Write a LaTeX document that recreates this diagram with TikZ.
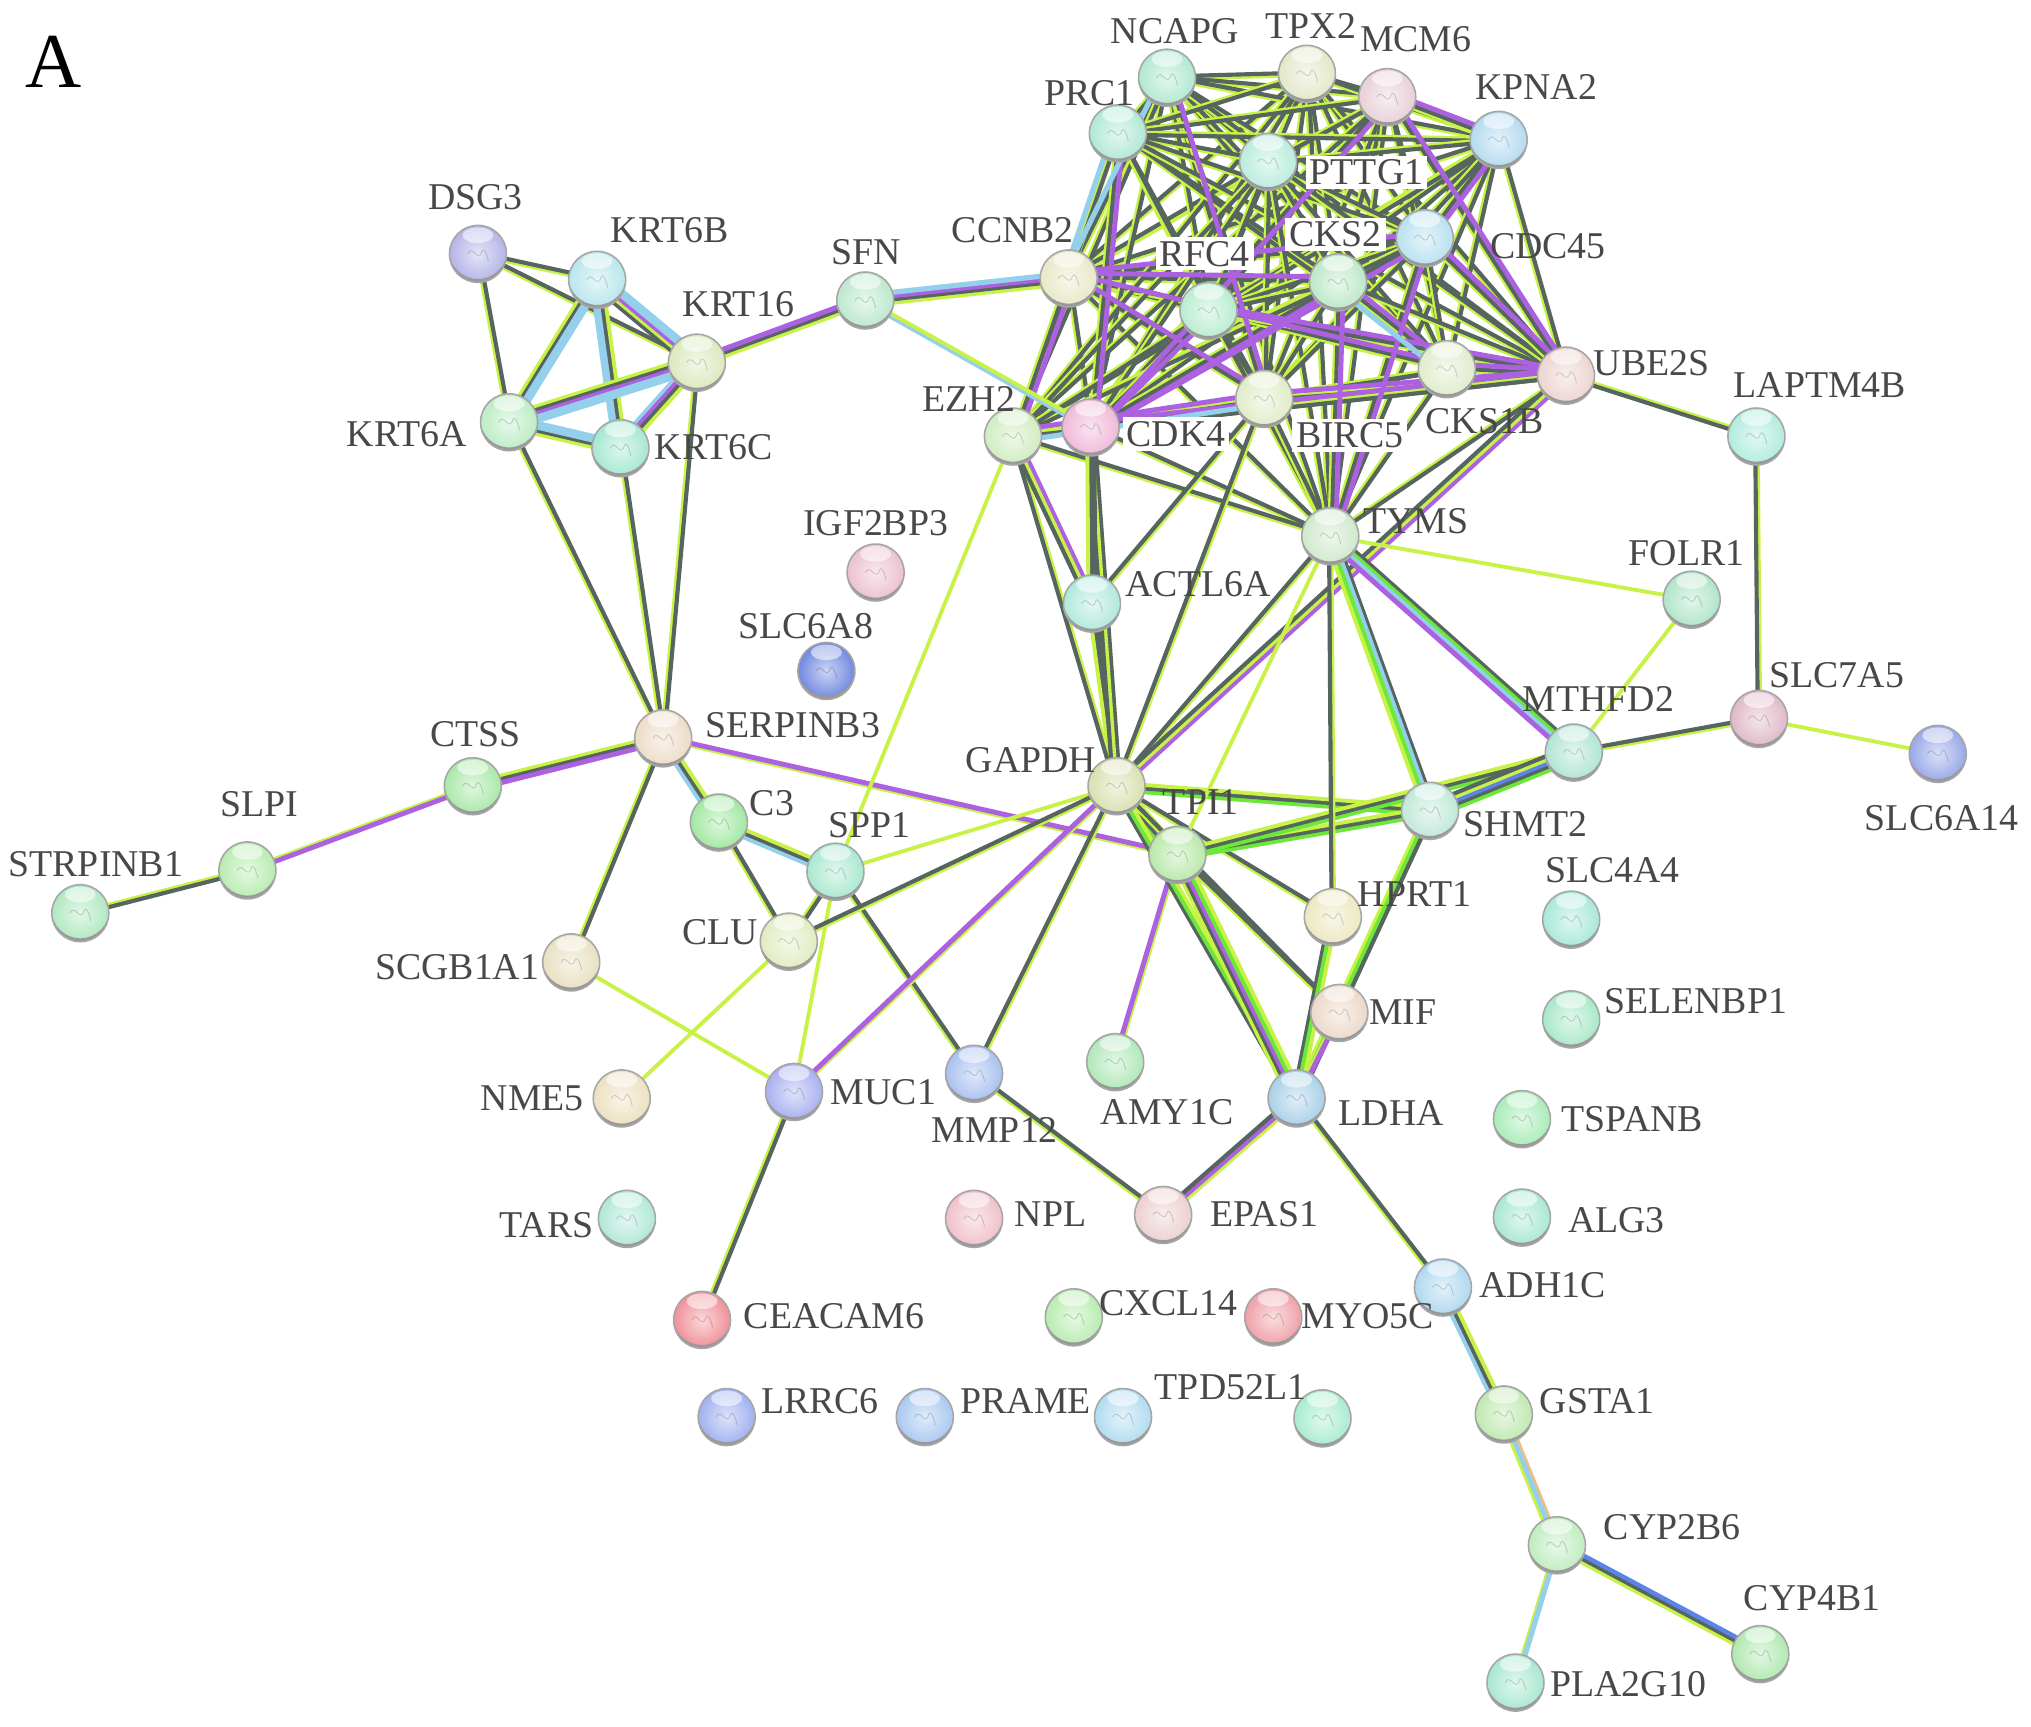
\documentclass[tikz,border=0pt]{standalone}
\usepackage{fontspec}
\setmainfont{Liberation Serif}
\usetikzlibrary{calc}
\pgfdeclarelayer{bg}
\pgfsetlayers{bg,main}
\definecolor{cLime}{HTML}{C8F248}
\definecolor{cGray}{HTML}{56655F}
\definecolor{cPur}{HTML}{AC62E0}
\definecolor{cCyan}{HTML}{94D0EC}
\definecolor{cNeon}{HTML}{6CE838}
\definecolor{cBlue}{HTML}{5C84E8}
\definecolor{cOrg}{HTML}{E8C088}
\definecolor{cText}{HTML}{484848}
\tikzset{
  lm/.style={cLime,line width=1.5pt},
  gy/.style={cGray,line width=1.6pt},
  pu/.style={cPur,line width=1.9pt},
  cy/.style={cCyan,line width=2pt},
  ng/.style={cNeon,line width=1.8pt},
  bl/.style={cBlue,line width=1.7pt},
  og/.style={cOrg,line width=1pt},
  protein/.style={circle,minimum size=22pt,inner sep=0pt,draw=gray!70,line width=.6pt},
  lbl/.style={text=cText,font=\fontsize{14.6}{15}\selectfont,inner sep=0pt},
  lblw/.style={lbl,fill=white,inner sep=1.5pt},
  panel/.style={text=black,font=\fontsize{30}{32}\selectfont,inner sep=0pt}
}
\newcommand\protnode[4]{%
  \definecolor{ballc}{HTML}{#4}%
  \pgfmathsetmacro\rr{mod(#2*3+#3*5,360)}%
  \node[protein,inner color=ballc!35!white,outer color=ballc,
    path picture={
      \fill[white,opacity=.55] (0,7.2pt) ellipse (6pt and 3pt);
      \draw[ballc!40!black,opacity=.25,line width=.35pt,rotate=\rr]
        (-4pt,0pt) .. controls (-2pt,4pt) and (0pt,-4pt) .. (1.5pt,1pt)
        .. controls (2.5pt,3pt) and (4pt,-2pt) .. (4pt,-3pt);
      \fill[gray!80,even odd rule] (0,0) circle (11.2pt) (0,1.5pt) circle (11.2pt);
    }] (#1) at (#2,#3) {};%
}
\newcommand\labeltext[5][lbl]{\node[#1] (#2) at (#3,#4) {#5};}
\newcommand\lnkoff[4]{\draw[#4] ($(#1.center)!#3pt!90:(#2.center)$) -- ($(#2.center)!#3pt!-90:(#1.center)$);}
\newcommand\lnk[3]{%
  \foreach \kc [count=\kn] in {#3} {\xdef\knn{\kn}}%
  \ifnum\knn=2 \gdef\kstep{.95}\else\gdef\kstep{1.35}\fi
  \foreach \kc [count=\ki] in {#3} {%
    \pgfmathsetmacro\koff{(\ki-(\knn+1)/2)*\kstep}%
    \lnkoff{#1}{#2}{\koff}{\kc}%
  }%
}
\begin{document}
\begin{tikzpicture}[x=.5pt,y=-.5pt]
\useasboundingbox (0,0) rectangle (1568,1332.6);
\protnode{DSG3}{369}{196}{B4B4E8}
\protnode{KRT6B}{461}{216}{B8E6EC}
\protnode{KRT16}{538}{280}{DCE8BC}
\protnode{KRT6A}{393}{326}{BCECC4}
\protnode{KRT6C}{479}{346}{A4E8D0}
\protnode{SFN}{668}{232}{BCE8CC}
\protnode{CCNB2}{825}{215}{E8E8C8}
\protnode{NCAPG}{901}{60}{B0E8D0}
\protnode{TPX2}{1009}{57}{E2E8C8}
\protnode{MCM6}{1071}{75}{E8D0D8}
\protnode{KPNA2}{1157}{108}{B4DAF0}
\protnode{PRC1}{863}{103}{B0E8D4}
\protnode{PTTG1}{979}{125}{B8ECDC}
\protnode{CDC45}{1100}{184}{B8E0F0}
\protnode{CKS2}{1033}{218}{BCE8C8}
\protnode{RFC4}{933}{240}{B8ECD0}
\protnode{CKS1B}{1117}{285}{E0ECCC}
\protnode{UBE2S}{1209}{290}{ECD4D0}
\protnode{BIRC5}{976}{308}{E0ECC8}
\protnode{CDK4}{842}{330}{F0B8D8}
\protnode{EZH2}{782}{337}{D0ECC0}
\protnode{LAPTM4B}{1356}{337}{B0ECDC}
\protnode{TYMS}{1027}{414}{D0E8CC}
\protnode{ACTL6A}{843}{466}{B0E8DC}
\protnode{IGF2BP3}{676}{442}{ECC0D0}
\protnode{FOLR1}{1306}{463}{B0E4C8}
\protnode{SLC6A8}{638}{518}{7088E0}
\protnode{SERPINB3}{512}{570}{ECDCC8}
\protnode{CTSS}{365}{607}{A8E8A8}
\protnode{SLPI}{191}{672}{B8ECB0}
\protnode{STRPINB1}{62}{705}{B0E8C0}
\protnode{C3}{555}{635}{A0E8A0}
\protnode{SPP1}{645}{673}{A8E8D0}
\protnode{CLU}{609}{727}{E0ECC0}
\protnode{GAPDH}{862}{607}{D8E0B0}
\protnode{TPI1}{909}{660}{B8E8A8}
\protnode{SHMT2}{1104}{626}{C0E8D8}
\protnode{MTHFD2}{1215}{581}{B0E4D4}
\protnode{SLC7A5}{1358}{555}{E0B8C8}
\protnode{SLC6A14}{1496}{582}{98A8E8}
\protnode{SLC4A4}{1213}{710}{A8E8D8}
\protnode{HPRT1}{1029}{708}{ECE8C0}
\protnode{MIF}{1034}{782}{ECD8C8}
\protnode{SELENBP1}{1213}{787}{A8E8C8}
\protnode{SCGB1A1}{441}{743}{E8E0C0}
\protnode{NME5}{480}{848}{ECE0C0}
\protnode{MUC1}{613}{843}{A8B0F0}
\protnode{MMP12}{752}{829}{A8C0F0}
\protnode{AMY1C}{861}{820}{B0E8B8}
\protnode{LDHA}{1001}{848}{A8D0E8}
\protnode{TSPANB}{1175}{864}{A8ECB8}
\protnode{TARS}{484}{941}{B0E8D8}
\protnode{NPL}{752}{941}{F0C0C8}
\protnode{EPAS1}{898}{938}{ECD0D0}
\protnode{ALG3}{1175}{940}{A8E8D0}
\protnode{ADH1C}{1114}{994}{B0D8F0}
\protnode{CEACAM6}{542}{1019}{F09098}
\protnode{CXCL14}{829}{1017}{B8ECB0}
\protnode{MYO5C}{983}{1017}{F0A0A8}
\protnode{LRRC6}{561}{1094}{A0B0F0}
\protnode{PRAME}{714}{1094}{A8C8F0}
\protnode{TPD52L1}{867}{1094}{B0DCF0}
\protnode{extra}{1021}{1095}{A8ECD0}
\protnode{GSTA1}{1161}{1092}{C0E8B0}
\protnode{CYP2B6}{1202}{1193}{C0ECC0}
\protnode{CYP4B1}{1359}{1277}{B0E8B0}
\protnode{PLA2G10}{1170}{1299}{A8E8D0}
\begin{pgfonlayer}{bg}
% dense cluster
\foreach \pa [count=\qi] in {CCNB2,NCAPG,TPX2,MCM6,KPNA2,PRC1,PTTG1,CDC45,CKS2,RFC4,CKS1B,UBE2S,BIRC5,CDK4,EZH2,TYMS}{
  \foreach \pb [count=\qj] in {CCNB2,NCAPG,TPX2,MCM6,KPNA2,PRC1,PTTG1,CDC45,CKS2,RFC4,CKS1B,UBE2S,BIRC5,CDK4,EZH2,TYMS}{
    \ifnum\qj>\qi \lnk{\pa}{\pb}{lm,gy}\fi
  }
}
\foreach \pa/\pb in {NCAPG/BIRC5,MCM6/KPNA2,MCM6/UBE2S,MCM6/CDK4,PRC1/CDK4,CCNB2/EZH2,CCNB2/CKS2,CCNB2/CDC45,CDC45/CDK4,CKS2/CDK4,RFC4/CDK4,CCNB2/BIRC5,BIRC5/UBE2S,CDK4/UBE2S,EZH2/BIRC5,CDC45/TYMS,CDC45/UBE2S,KPNA2/CDC45,CKS2/TYMS,RFC4/UBE2S,CKS1B/UBE2S,CKS2/CKS1B,CCNB2/CKS1B}{
  \lnkoff{\pa}{\pb}{2.1}{pu}
}
\foreach \pa/\pb in {NCAPG/CCNB2,PRC1/CCNB2,CKS2/CKS1B,EZH2/BIRC5}{
  \lnkoff{\pa}{\pb}{-2.1}{cy}
}
% keratin group
\lnk{DSG3}{KRT6B}{lm,gy}
\lnk{DSG3}{KRT16}{lm,gy}
\lnk{DSG3}{KRT6A}{lm,gy}
\lnk{KRT6B}{KRT16}{gy,lm,pu,cy,cy}
\lnk{KRT6B}{KRT6A}{lm,gy,cy,cy}
\lnk{KRT6B}{KRT6C}{cy,cy,gy,lm}
\lnk{KRT16}{KRT6A}{lm,gy,pu,cy,cy}
\lnk{KRT16}{KRT6C}{cy,pu,gy,lm}
\lnk{KRT6A}{KRT6C}{lm,gy,cy,cy}
\lnk{KRT6A}{SERPINB3}{lm,gy}
\lnk{KRT6C}{SERPINB3}{lm,gy}
\lnk{KRT16}{SERPINB3}{lm,gy}
\lnk{KRT16}{SFN}{lm,gy,pu}
\lnk{SFN}{CCNB2}{lm,gy,pu,cy}
\lnk{SFN}{CDK4}{cy,lm}
% left chain
\lnk{SERPINB3}{CTSS}{lm,gy,pu}
\lnk{CTSS}{SLPI}{lm,pu}
\lnk{SLPI}{STRPINB1}{lm,gy}
\lnk{SERPINB3}{C3}{cy,gy,lm}
\lnk{SERPINB3}{SCGB1A1}{lm,gy}
\lnk{SERPINB3}{TPI1}{lm,pu}
\lnk{C3}{SPP1}{cy,gy,lm}
\lnk{C3}{CLU}{lm,gy}
\lnk{SPP1}{CLU}{lm,gy}
\lnk{SPP1}{MMP12}{lm,gy}
\lnk{SPP1}{MUC1}{lm}
\lnk{SPP1}{GAPDH}{lm}
\lnk{CLU}{GAPDH}{lm,gy}
\lnk{CLU}{NME5}{lm}
\lnk{EZH2}{SPP1}{lm}
\lnk{SCGB1A1}{MUC1}{lm}
\lnk{MUC1}{GAPDH}{lm,pu}
\lnk{MUC1}{CEACAM6}{lm,gy}
\lnk{MMP12}{GAPDH}{lm,gy}
\lnk{MMP12}{EPAS1}{lm,gy}
\lnk{EPAS1}{LDHA}{lm,pu,gy}
\lnk{LDHA}{ADH1C}{lm,gy}
\lnk{ADH1C}{GSTA1}{cy,gy,lm}
\lnk{GSTA1}{CYP2B6}{lm,cy,og}
\lnk{CYP2B6}{CYP4B1}{lm,gy,bl}
\lnk{CYP2B6}{PLA2G10}{lm,cy}
\lnk{AMY1C}{TPI1}{lm,pu}
% centre
\lnk{GAPDH}{TPI1}{ng,gy,pu,lm}
\lnk{GAPDH}{ACTL6A}{gy,gy,lm}
\lnk{GAPDH}{EZH2}{lm,gy}
\lnk{GAPDH}{CDK4}{gy,lm,gy}
\lnk{GAPDH}{TYMS}{lm,gy}
\lnk{GAPDH}{UBE2S}{pu,lm,gy}
\lnk{GAPDH}{BIRC5}{lm,gy}
\lnk{GAPDH}{SHMT2}{ng,gy,lm}
\lnk{GAPDH}{HPRT1}{lm,gy}
\lnk{GAPDH}{LDHA}{gy,ng,lm}
\lnk{GAPDH}{MIF}{lm,gy}
\lnk{TPI1}{SHMT2}{ng,gy,lm}
\lnk{TPI1}{MTHFD2}{ng,gy,lm}
\lnk{TPI1}{MIF}{lm,gy}
\lnk{TPI1}{LDHA}{lm,gy,pu,ng,lm}
\lnk{TPI1}{TYMS}{lm}
\lnk{SHMT2}{MTHFD2}{ng,gy,bl,lm,gy}
\lnk{SHMT2}{TYMS}{gy,cy,ng,lm}
\lnk{SHMT2}{LDHA}{lm,ng,gy}
\lnk{HPRT1}{TYMS}{lm,gy}
\lnk{HPRT1}{LDHA}{gy,ng,lm}
\lnk{MIF}{LDHA}{lm,pu}
\lnk{MTHFD2}{SLC7A5}{lm,gy}
\lnk{MTHFD2}{TYMS}{gy,ng,cy,pu}
\lnk{MTHFD2}{FOLR1}{lm}
\lnk{TYMS}{FOLR1}{lm}
\lnk{SLC7A5}{SLC6A14}{lm}
\lnk{SLC7A5}{LAPTM4B}{lm,gy}
\lnk{LAPTM4B}{UBE2S}{lm,gy}
\lnk{ACTL6A}{EZH2}{pu,lm,gy}
\lnk{ACTL6A}{CDK4}{gy,gy,lm}
\lnk{ACTL6A}{BIRC5}{lm,gy}
\end{pgfonlayer}
\labeltext[panel]{lA}{41}{48}{A}
\labeltext{lDSG3}{367}{152}{DSG3}
\labeltext{lKRT6B}{517}{178}{KRT6B}
\labeltext{lKRT16}{570}{235}{KRT16}
\labeltext{lKRT6A}{314}{335}{KRT6A}
\labeltext{lKRT6C}{551}{345}{KRT6C}
\labeltext{lSFN}{669}{195}{SFN}
\labeltext{lCCNB2}{782}{178}{CCNB2}
\labeltext{lNCAPG}{907}{24}{NCAPG}
\labeltext{lTPX2}{1012}{20}{TPX2}
\labeltext{lMCM6}{1093}{30}{MCM6}
\labeltext{lKPNA2}{1186}{67}{KPNA2}
\labeltext{lPRC1}{841}{72}{PRC1}
\labeltext[lblw]{lPTTG1}{1055}{133}{PTTG1}
\labeltext[lblw]{lRFC4}{930}{196}{RFC4}
\labeltext[lblw]{lCKS2}{1031}{181}{CKS2}
\labeltext{lCDC45}{1195}{190}{CDC45}
\labeltext{lUBE2S}{1275}{280}{UBE2S}
\labeltext[lblw]{lBIRC5}{1042}{336}{BIRC5}
\labeltext[lblw]{lCDK4}{908}{335}{CDK4}
\labeltext{lCKS1B}{1146}{325}{CKS1B}
\labeltext{lEZH2}{748}{308}{EZH2}
\labeltext{lLAPTM4B}{1405}{297}{LAPTM4B}
\labeltext{lTYMS}{1093}{402}{TYMS}
\labeltext{lACTL6A}{925}{451}{ACTL6A}
\labeltext{lIGF2BP3}{676}{404}{IGF2BP3}
\labeltext{lFOLR1}{1302}{427}{FOLR1}
\labeltext{lSLC6A8}{622}{483}{SLC6A8}
\labeltext{lMTHFD2}{1234}{540}{MTHFD2}
\labeltext{lSLC7A5}{1418}{521}{SLC7A5}
\labeltext{lSLC6A14}{1499}{632}{SLC6A14}
\labeltext{lSERPINB3}{612}{560}{SERPINB3}
\labeltext{lGAPDH}{796}{587}{GAPDH}
\labeltext{lTPI1}{927}{619}{TPI1}
\labeltext{lSHMT2}{1178}{636}{SHMT2}
\labeltext{lC3}{596}{620}{C3}
\labeltext{lSPP1}{671}{637}{SPP1}
\labeltext{lCTSS}{367}{567}{CTSS}
\labeltext{lSLPI}{200}{621}{SLPI}
\labeltext{lSTRPINB1}{74}{667}{STRPINB1}
\labeltext{lCLU}{556}{720}{CLU}
\labeltext{lSLC4A4}{1245}{672}{SLC4A4}
\labeltext{lHPRT1}{1092}{690}{HPRT1}
\labeltext{lMIF}{1083}{781}{MIF}
\labeltext{lSELENBP1}{1309}{773}{SELENBP1}
\labeltext{lSCGB1A1}{353}{747}{SCGB1A1}
\labeltext{lNME5}{411}{848}{NME5}
\labeltext{lMUC1}{682}{843}{MUC1}
\labeltext{lMMP12}{768}{872}{MMP12}
\labeltext{lAMY1C}{901}{859}{AMY1C}
\labeltext{lLDHA}{1074}{859}{LDHA}
\labeltext{lTSPANB}{1260}{864}{TSPANB}
\labeltext{lTARS}{422}{946}{TARS}
\labeltext{lNPL}{811}{937}{NPL}
\labeltext{lEPAS1}{976}{937}{EPAS1}
\labeltext{lALG3}{1248}{942}{ALG3}
\labeltext{lADH1C}{1191}{992}{ADH1C}
\labeltext{lCEACAM6}{644}{1016}{CEACAM6}
\labeltext{lCXCL14}{902}{1006}{CXCL14}
\labeltext{lMYO5C}{1056}{1016}{MYO5C}
\labeltext{lLRRC6}{633}{1082}{LRRC6}
\labeltext{lPRAME}{792}{1082}{PRAME}
\labeltext{lTPD52L1}{950}{1071}{TPD52L1}
\labeltext{lGSTA1}{1233}{1082}{GSTA1}
\labeltext{lCYP2B6}{1291}{1179}{CYP2B6}
\labeltext{lCYP4B1}{1399}{1234}{CYP4B1}
\labeltext{lPLA2G10}{1257}{1300}{PLA2G10}
\end{tikzpicture}
\end{document}
